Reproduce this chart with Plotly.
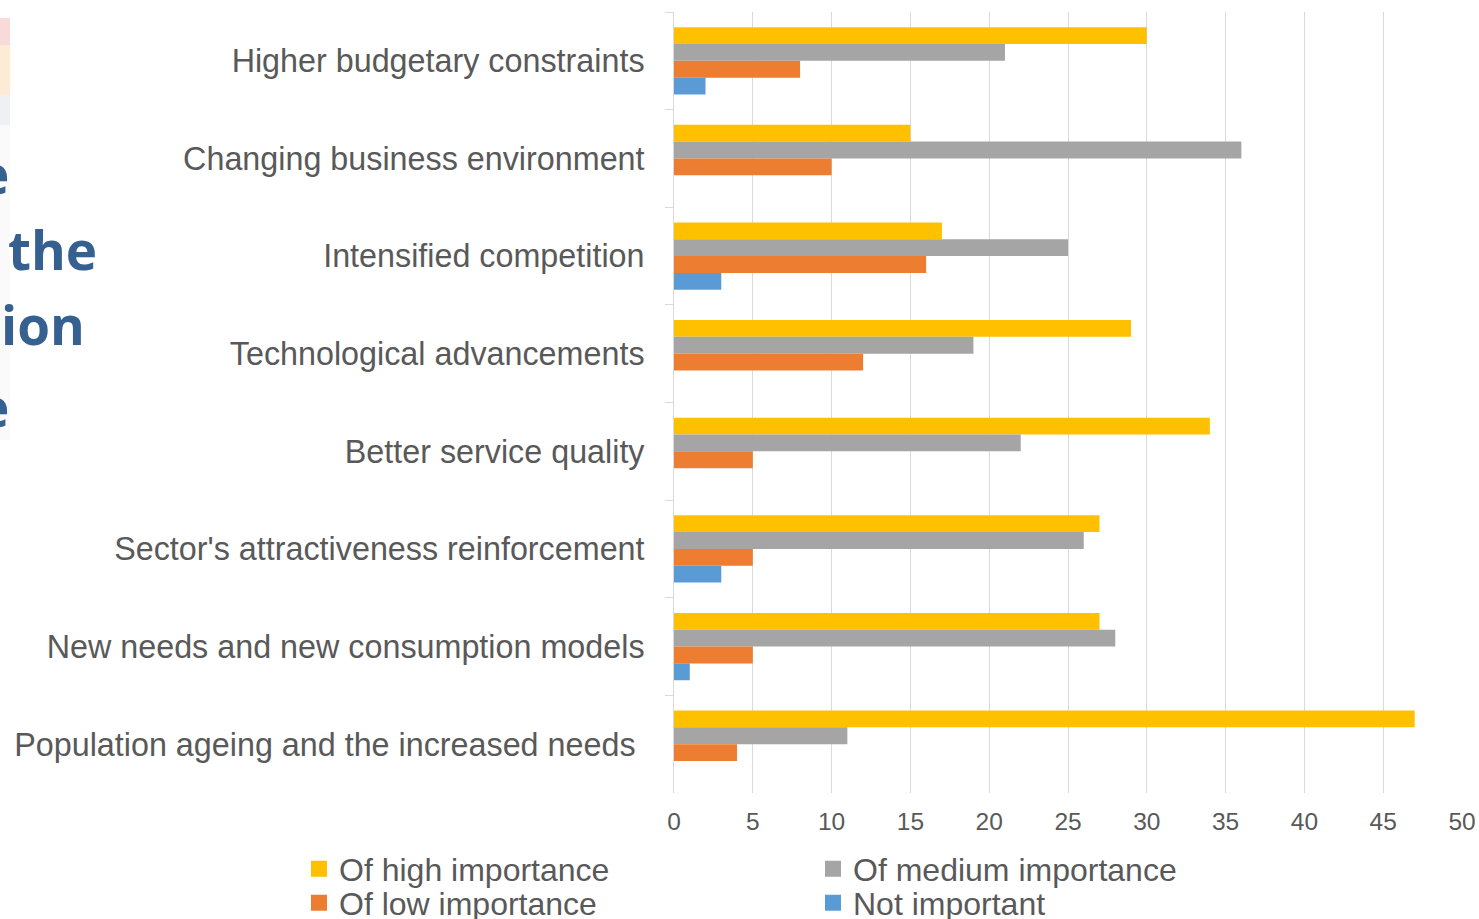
import plotly.graph_objects as go

categories = [
    "Higher budgetary constraints",
    "Changing business environment",
    "Intensified competition",
    "Technological advancements",
    "Better service quality",
    "Sector's attractiveness reinforcement",
    "New needs and new consumption models",
    "Population ageing and the increased needs\u00a0",
]
high = [30, 15, 17, 29, 34, 27, 27, 47]
medium = [21, 36, 25, 19, 22, 26, 28, 11]
low = [8, 10, 16, 12, 5, 5, 5, 4]
not_important = [2, 0, 3, 0, 0, 3, 1, 0]

series_names = ["Of high importance", "Of medium importance", "Of low importance", "Not important"]
series_values = [high, medium, low, not_important]
series_colors = ["#FFC000", "#A5A5A5", "#ED7D31", "#5B9BD5"]
legend_rows = ["legend", "legend", "legend2", "legend2"]

fig = go.Figure()
for name, vals, color in zip(series_names, series_values, series_colors):
    fig.add_trace(go.Bar(
        y=categories, x=vals, name=name, orientation="h",
        marker=dict(color=color, line=dict(width=0)), showlegend=False,
    ))
# legend entries with square symbols
for name, color, lg in zip(series_names, series_colors, legend_rows):
    fig.add_trace(go.Scatter(
        x=[None], y=[None], mode="markers", name=name, legend=lg,
        marker=dict(symbol="square", size=16, color=color), showlegend=True,
    ))

W, H = 1479, 919
L, R, T, B = 674, 17, 12, 126
pw = W - L - R
ph = H - T - B

def px(x):
    return (x - L) / pw

def py(y):
    return 1 - (y - T) / ph

legend_common = dict(
    orientation="h", xanchor="left", yanchor="middle",
    entrywidth=469, entrywidthmode="pixels", traceorder="normal",
    font=dict(size=32, color="#595959"), itemwidth=30,
    bgcolor="rgba(0,0,0,0)", borderwidth=0,
)

fig.update_layout(
    width=W, height=H,
    margin=dict(l=L, r=R, t=T, b=B, pad=0, autoexpand=False),
    paper_bgcolor="white", plot_bgcolor="white",
    barmode="group", bargap=0.31, bargroupgap=0,
    font=dict(family="Liberation Sans, Arial, sans-serif", color="#595959"),
    xaxis=dict(
        range=[0, 50], dtick=5, showgrid=True, gridcolor="#D9D9D9", gridwidth=1,
        zeroline=False, showline=False, ticks="",
        tickfont=dict(size=24.5, color="#595959"), ticklabelstandoff=11,
    ),
    yaxis=dict(
        autorange="reversed", tickson="boundaries", ticks="outside", ticklen=8,
        tickcolor="#D9D9D9", showline=True, linecolor="#D9D9D9", linewidth=1,
        showgrid=False, tickfont=dict(size=32.3, color="#595959"),
        ticklabelstandoff=22,
    ),
    legend=dict(x=px(299), y=py(869), **legend_common),
    legend2=dict(x=px(299), y=py(903), **legend_common),
    showlegend=True,
)

# faint background fragments at left edge of slide
for y0, y1, c in [(18, 45, "#F9DADA"), (45, 95, "#FDEBD6"), (95, 125, "#EEF0F4"), (125, 440, "#FAFAFA")]:
    fig.add_shape(type="rect", xref="paper", yref="paper",
                  x0=px(0), x1=px(10), y0=py(y1), y1=py(y0),
                  fillcolor=c, line=dict(width=0), layer="below")

# cut-off slide title fragments at the left edge
frag_font = dict(family="Open Sans, Liberation Sans, sans-serif", size=53, color="#36608F")
for text, xr, yc in [("e", 11, 173), ("the", 99, 249), ("ion", 87, 325), ("e", 11, 406)]:
    fig.add_annotation(text="<b>" + text + "</b>", xref="paper", yref="paper",
                       x=px(xr), y=py(yc), xanchor="right", yanchor="middle",
                       showarrow=False, font=frag_font)

fig.write_html("out.html", config={"displayModeBar": False},
               post_script="document.body.style.margin='0';document.body.style.padding='0';")
